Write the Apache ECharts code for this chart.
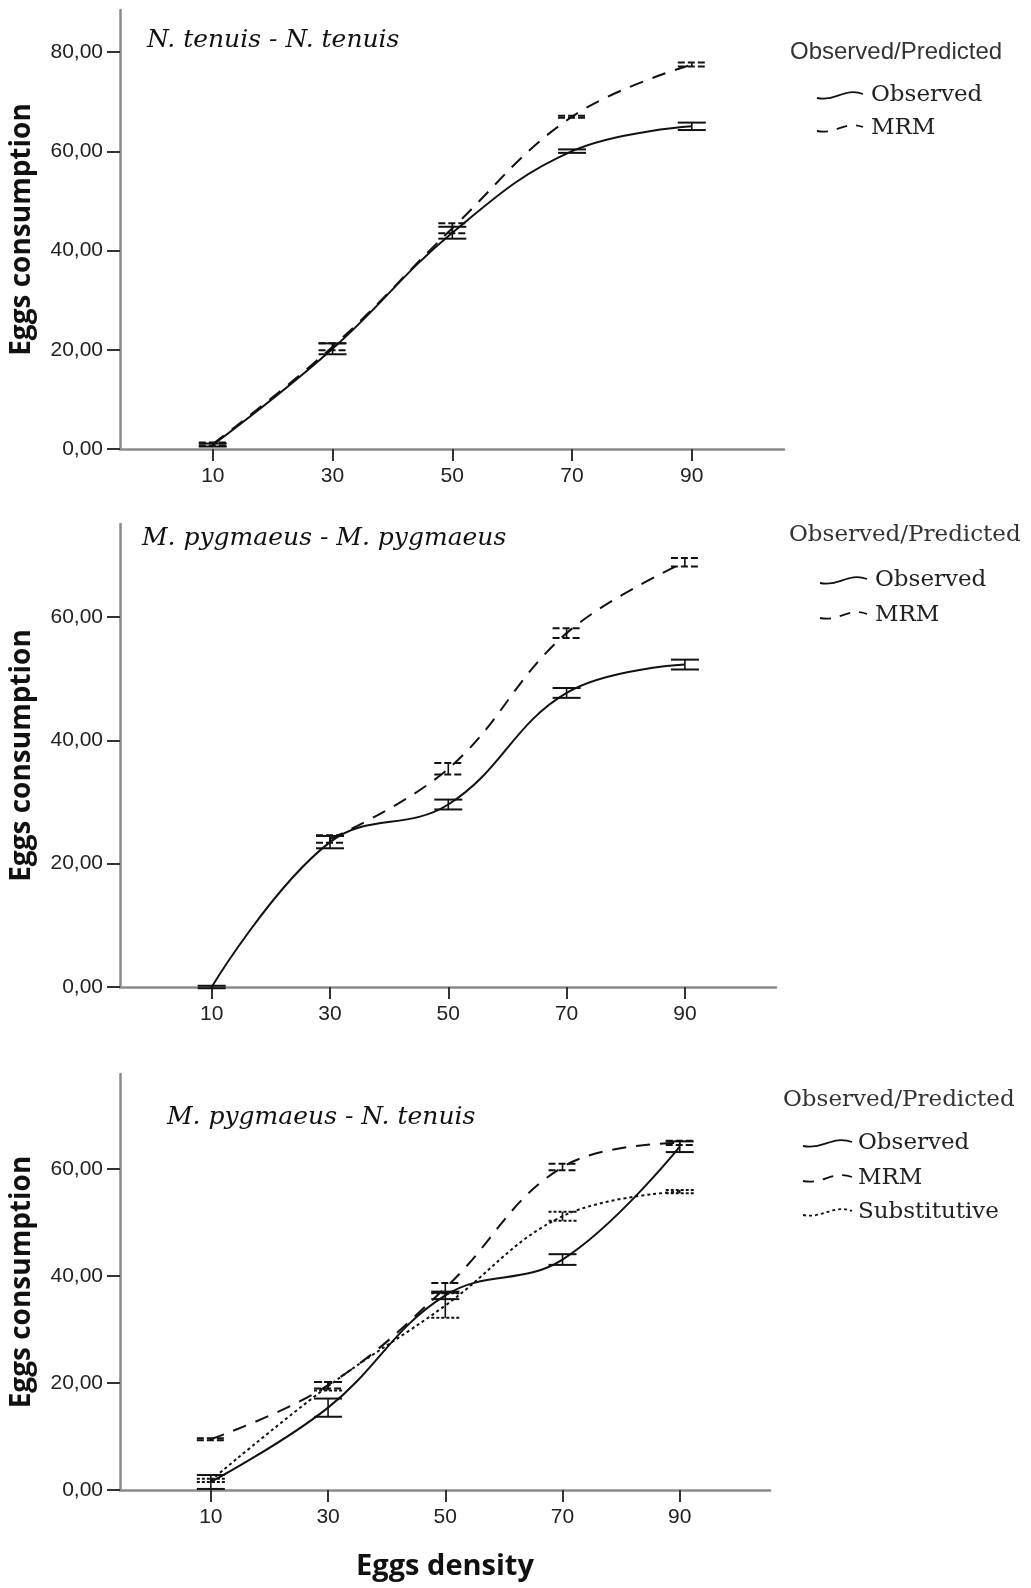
<!DOCTYPE html>
<html>
<head>
<meta charset="utf-8">
<script src="https://cdn.jsdelivr.net/npm/echarts@6/dist/echarts.min.js"></script>
<style>
  html, body { margin: 0; padding: 0; background: #fff; }
  #chart { width: 1031px; height: 1588px; }
</style>
</head>
<body>
<div id="chart"></div>
<script>
const DENSITY = [10, 30, 50, 70, 90];
const Y_TICKS_TOP = [0, 20, 40, 60, 80];
const Y_TICKS = [0, 20, 40, 60];

// N. tenuis - N. tenuis
const P1_OBSERVED = [0.8, 20.2, 43.6, 60.05, 65.05];
const P1_OBSERVED_ERR = [0.3, 1.1, 1.2, 0.35, 0.75];
const P1_MRM = [1.0, 20.6, 44.5, 67.0, 77.5];
const P1_MRM_ERR = [0.3, 0.7, 1.0, 0.2, 0.4];

// M. pygmaeus - M. pygmaeus (no MRM prediction at density 10)
const P2_OBSERVED = [0.0, 23.5, 29.6, 47.7, 52.3];
const P2_OBSERVED_ERR = [0.2, 1.0, 0.8, 0.8, 0.8];
const P2_MRM = [null, 24.0, 35.4, 57.4, 68.9];
const P2_MRM_ERR = [null, 0.6, 0.95, 0.8, 0.7];

// M. pygmaeus - N. tenuis
const P3_OBSERVED = [1.5, 15.4, 36.4, 43.1, 64.2];
const P3_OBSERVED_ERR = [1.3, 1.7, 0.7, 1.0, 1.0];
const P3_MRM = [9.5, 19.6, 37.8, 60.4, 64.9];
const P3_MRM_ERR = [0.2, 0.6, 0.9, 0.6, 0.4];
const P3_SUBST = [1.8, 19.4, 34.5, 51.2, 55.8];
const P3_SUBST_ERR = [0.3, 0.8, 2.3, 0.85, 0.3];

const INK = "#111";
const AXIS = "#8a8a8a";
const LABEL = "#222";
const DASHED = [14, 10];
const DOTTED = [3, 3];

const chart = echarts.init(document.getElementById("chart"), null, { renderer: "canvas" });

const fmt = (v) => v.toFixed(2).replace(".", ",");

function xAxis(gridIndex, showName) {
  return {
    gridIndex,
    type: "value",
    min: -5.5,
    max: 105.4,
    axisLine: { show: true, onZero: false, lineStyle: { color: AXIS, width: 2.5 } },
    axisTick: { show: true, customValues: DENSITY, length: 12, lineStyle: { color: "#333", width: 2 } },
    axisLabel: { customValues: DENSITY, color: LABEL, fontFamily: "Liberation Sans", fontSize: 21, margin: 17 },
    splitLine: { show: false },
    name: showName ? "Eggs density" : "",
    nameLocation: "middle",
    nameGap: 62,
    nameTextStyle: { color: INK, fontFamily: "Open Sans", fontWeight: "bold", fontSize: 29 },
  };
}

function yAxis(gridIndex, max, ticks) {
  return {
    gridIndex,
    type: "value",
    min: 0,
    max,
    axisLine: { show: true, onZero: false, lineStyle: { color: AXIS, width: 2.5 } },
    axisTick: { show: true, customValues: ticks, length: 13, lineStyle: { color: "#333", width: 2 } },
    axisLabel: { customValues: ticks, formatter: fmt, color: LABEL, fontFamily: "Liberation Sans", fontSize: 21, margin: 17 },
    splitLine: { show: false },
    name: "Eggs consumption",
    nameLocation: "middle",
    nameRotate: 90,
    nameGap: 84,
    nameTextStyle: { color: INK, fontFamily: "Open Sans", fontWeight: "bold", fontSize: 28 },
  };
}

function line(index, name, values, dash) {
  return {
    name,
    type: "line",
    xAxisIndex: index,
    yAxisIndex: index,
    data: DENSITY.map((d, i) => [d, values[i]]).filter((p) => p[1] !== null),
    smooth: 0.4,
    symbol: "none",
    silent: true,
    z: 2,
    lineStyle: { color: INK, width: 2, type: dash || "solid" },
  };
}

function errorBars(index, values, errs, dash) {
  return {
    type: "custom",
    xAxisIndex: index,
    yAxisIndex: index,
    silent: true,
    z: 3,
    encode: { x: 0, y: [1, 2] },
    data: DENSITY.map((d, i) => (values[i] === null ? null : [d, values[i] - errs[i], values[i] + errs[i]]))
      .filter((p) => p !== null),
    renderItem: (params, api) => {
      const lo = api.coord([api.value(0), api.value(1)]);
      const hi = api.coord([api.value(0), api.value(2)]);
      const w = 14;
      const cap = { stroke: INK, lineWidth: 2, lineDash: dash || null };
      return {
        type: "group",
        children: [
          { type: "line", shape: { x1: lo[0], y1: lo[1], x2: hi[0], y2: hi[1] }, style: { stroke: INK, lineWidth: 1.6 } },
          { type: "line", shape: { x1: lo[0] - w, y1: lo[1], x2: lo[0] + w, y2: lo[1] }, style: cap },
          { type: "line", shape: { x1: hi[0] - w, y1: hi[1], x2: hi[0] + w, y2: hi[1] }, style: cap },
        ],
      };
    },
  };
}

function text(x, y, str, font, extra) {
  return {
    type: "text",
    x,
    y,
    silent: true,
    style: Object.assign({ text: str, fill: INK, font, textVerticalAlign: "middle" }, extra || {}),
  };
}

function wave(x1, x2, y, dash) {
  const w = x2 - x1;
  return {
    type: "bezierCurve",
    silent: true,
    shape: {
      x1, y1: y + 3,
      cpx1: x1 + w * 0.4, cpy1: y + 7,
      cpx2: x1 + w * 0.6, cpy2: y - 8,
      x2, y2: y - 1,
    },
    style: { stroke: INK, lineWidth: 1.8, fill: null, lineDash: dash || null },
  };
}

function legend(headX, headY, headFont, itemX, iconX1, iconX2, items) {
  const out = [text(headX, headY, "Observed/Predicted", headFont, { fill: "#333" })];
  items.forEach(([label, y, dash]) => {
    out.push(wave(iconX1, iconX2, y, dash));
    out.push(text(itemX, y, label, "23px 'DejaVu Serif'", { fill: "#222" }));
  });
  return out;
}

const TITLE_FONT = "italic 25px 'DejaVu Serif'";

chart.setOption({
  animation: false,
  backgroundColor: "#fff",
  grid: [
    { left: 118, top: 10, width: 666, height: 439 },
    { left: 118, top: 524, width: 658, height: 463 },
    { left: 117, top: 1074, width: 653, height: 416 },
  ],
  xAxis: [xAxis(0, false), xAxis(1, false), xAxis(2, true)],
  yAxis: [yAxis(0, 88.5, Y_TICKS_TOP), yAxis(1, 75.1, Y_TICKS), yAxis(2, 77.8, Y_TICKS)],
  series: [
    line(0, "Observed", P1_OBSERVED),
    line(0, "MRM", P1_MRM, DASHED),
    errorBars(0, P1_OBSERVED, P1_OBSERVED_ERR),
    errorBars(0, P1_MRM, P1_MRM_ERR, [7, 3]),

    line(1, "Observed", P2_OBSERVED),
    line(1, "MRM", P2_MRM, DASHED),
    errorBars(1, P2_OBSERVED, P2_OBSERVED_ERR),
    errorBars(1, P2_MRM, P2_MRM_ERR, [7, 3]),

    line(2, "Observed", P3_OBSERVED),
    line(2, "MRM", P3_MRM, DASHED),
    line(2, "Substitutive", P3_SUBST, DOTTED),
    errorBars(2, P3_OBSERVED, P3_OBSERVED_ERR),
    errorBars(2, P3_MRM, P3_MRM_ERR, [7, 3]),
    errorBars(2, P3_SUBST, P3_SUBST_ERR, [3, 2]),
  ],
  graphic: [
    text(147, 40, "N. tenuis - N. tenuis", TITLE_FONT),
    text(142, 538, "M. pygmaeus - M. pygmaeus", TITLE_FONT),
    text(167, 1117, "M. pygmaeus - N. tenuis", TITLE_FONT),
    ...legend(790, 52, "24px 'Liberation Sans'", 871, 817, 863, [
      ["Observed", 95],
      ["MRM", 128, [11, 9]],
    ]),
    ...legend(789, 535, "23px 'DejaVu Serif'", 875, 820, 867, [
      ["Observed", 580],
      ["MRM", 615, [11, 9]],
    ]),
    ...legend(783, 1100, "23px 'DejaVu Serif'", 858, 803, 852, [
      ["Observed", 1143],
      ["MRM", 1178, [11, 9]],
      ["Substitutive", 1212, [3, 3]],
    ]),
  ],
});
</script>
</body>
</html>
